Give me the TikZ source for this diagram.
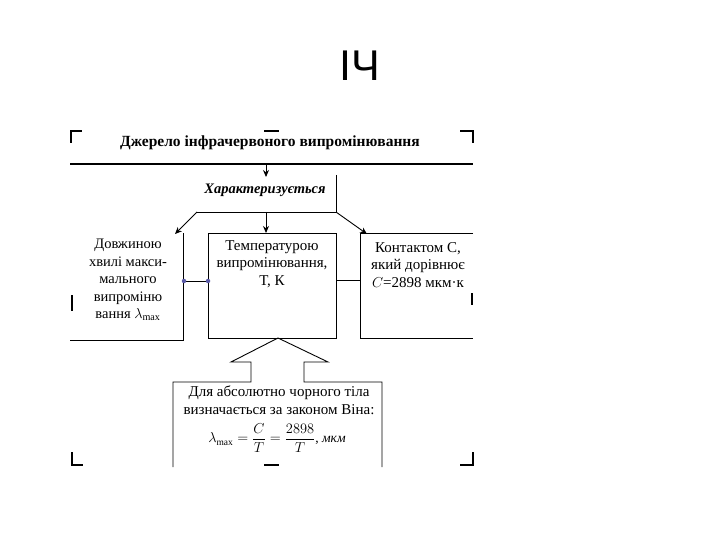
\documentclass[tikz,border=0pt]{standalone}
\usepackage{amsmath}
\usepackage{fontspec}
\setmainfont{Liberation Serif}
\newfontfamily\titlesans{Liberation Sans}
\usetikzlibrary{arrows.meta}
\begin{document}
\begin{tikzpicture}[x=1pt,y=-1pt,
  ln/.style={line width=0.9pt, black},
  crop/.style={line width=2.2pt, black},
  arr/.style={ln, -{Stealth[length=7pt,width=6pt]}},
  txt/.style={align=center, font=\fontsize{15}{17.5}\selectfont, inner sep=0pt},
  dot/.style={circle, fill=gray!70!blue, inner sep=0pt, minimum size=4.5pt}]
\useasboundingbox (0,0) rectangle (720,540);
\fill[white] (0,0) rectangle (720,540);
\node (ich) at (360,66) {\titlesans\fontsize{43}{43}\selectfont ІЧ};
% crop marks
\draw[crop] (71,143) -- (71,131) -- (82,131);
\draw[crop] (460,131) -- (473,131) -- (473,143);
\draw[crop] (72,452) -- (72,465) -- (83,465);
\draw[crop] (473,452) -- (473,465) -- (460,465);
\draw[crop] (264,131) -- (279,131);
\draw[crop] (264,465) -- (279,465);
% title
\node[inner sep=0pt, font=\bfseries\fontsize{15.5}{17}\selectfont] (title) at (270,143) {Джерело інфрачервоного випромінювання};
\draw[line width=2.5pt] (70,164) coordinate (hl) -- (473,164) coordinate (hr);
\coordinate (a0) at (266,165);
\coordinate (a1) at (266,177);
\draw[arr] (a0) -- (a1);
\node[inner sep=0pt, font=\bfseries\itshape\fontsize{14.5}{16}\selectfont] (char) at (265,190) {Характеризується};
\coordinate (bt) at (336,175);
\coordinate (br) at (336,212);
\coordinate (bl) at (197,212);
\coordinate (bm) at (266,212);
\draw[ln] (bt) -- (br) -- (bl);
% boxes
\draw[ln] (208,233) rectangle (336,338);
\node[txt] (mid) at (272,264) {Температурою\\випромінювання,\\Т, К};
\draw[ln] (183,233) coordinate (lt) -- (183,340) -- (70,340);
\node[txt, font=\fontsize{14.5}{17.5}\selectfont] (left) at (128,280) {Довжиною\\хвилі макси-\\мального\\випроміню\\вання $\lambda_{\max}$};
\draw[ln] (473,233) -- (360,233) coordinate (rt) -- (360,338) -- (473,338);
\node[txt] (right) at (418,265) {Контактом С,\\який дорівнює\\$C$=2898 мкм·к};
\draw[arr] (bl) -- (175,234);
\draw[arr] (br) -- (367,234);
\draw[arr] (bm) -- (266,233);
% connectors
\coordinate (c1) at (184,281);
\coordinate (c2) at (208,281);
\draw[ln] (c1) -- (c2);
\node[dot] at (c1) {};
\node[dot] at (c2) {};
\coordinate (c3) at (336,280);
\coordinate (c4) at (360,280);
\draw[ln] (c3) -- (c4);
% small fragments
\draw[line width=1.5pt] (72,295) -- (72,311);
\draw[line width=1.5pt] (472,293) -- (472,305);
% block arrow + bottom box
\draw[ln] (173,467) -- (173,382) -- (251,382) -- (251,362) -- (231,362) -- (278,338) -- (328,362) -- (304,362) -- (304,382) -- (382,382) -- (382,467);
\node[txt] (bot) at (279,400) {Для абсолютно чорного тіла\\визначається за законом Віна:};
\node[inner sep=0pt, font=\fontsize{13.5}{16}\selectfont] (form) at (277,438) {$\lambda_{\max} = \dfrac{C}{T} = \dfrac{2898}{T}$, \textit{мкм}};
\end{tikzpicture}
\end{document}
